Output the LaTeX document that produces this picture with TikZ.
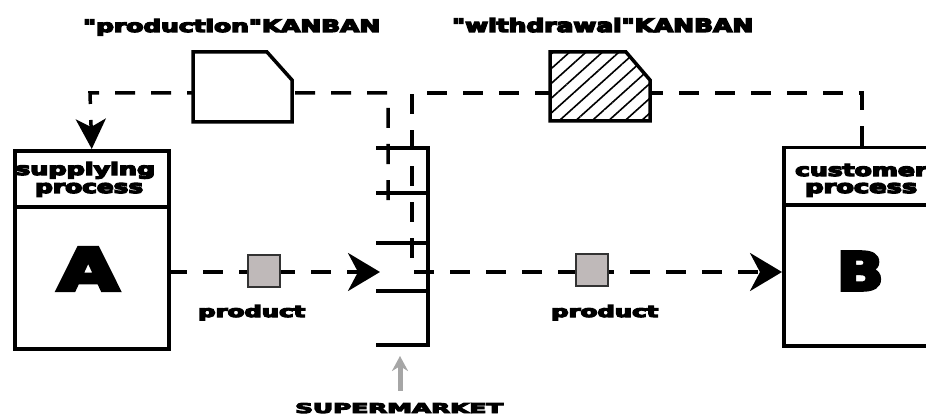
\documentclass[tikz,border=0pt]{standalone}
\usepackage{graphicx}
\usepackage{fontspec}
\newfontface\heavy{DejaVu Sans Bold}[FakeBold=7]
\usetikzlibrary{arrows.meta,patterns.meta}
% text scaled to a given width and height (in pt)
\newcommand{\fitlabel}[3]{\resizebox{#1pt}{#2pt}{\heavy #3}}
\definecolor{prodgray}{HTML}{BFB9B9}

\begin{document}
\begin{tikzpicture}[x=1pt,y=-1pt,
  boxline/.style={line width=3.5pt},
  flow/.style={line width=3.5pt, dash pattern=on 20pt off 16pt},
  shelf/.style={line width=3.5pt},
  txt/.style={inner sep=0pt, anchor=base west},
  bigtip/.style={-{Stealth[length=32pt,width=38pt,inset=10pt]}},
  downtip/.style={-{Stealth[length=30pt,width=30pt,inset=8pt]}},
  kanban/.style={line width=3.5pt, line join=miter},
  item/.style={draw=black!80, fill=prodgray, line width=2pt, minimum size=32pt, inner sep=0pt}]

\fill[white] (0,0) rectangle (926,417);
\useasboundingbox (0,0) rectangle (926,417);
\clip (0,0) rectangle (926,417);

% processes
\node[draw, boxline, minimum width=154pt, minimum height=198pt, inner sep=0pt, anchor=north west] (boxA) at (13,149) {};
\draw[boxline] ([yshift=-58pt]boxA.north west) -- ([yshift=-58pt]boxA.north east);
\node[draw, boxline, minimum width=156pt, minimum height=198pt, inner sep=0pt, anchor=north west] (boxB) at (782,146) {};
\draw[boxline] ([yshift=-59pt]boxB.north west) -- ([yshift=-59pt]boxB.north east);

\node[txt] (supA) at (15,175) {\fitlabel{140}{13}{supplying}};
\node[txt] (procA) at (35,193) {\fitlabel{108}{10}{process}};
\node[txt] (letA) at (58,290) {\fitlabel{60}{42}{A}};
\node[txt] (cusB) at (795,176) {\fitlabel{132}{12}{customer}};
\node[txt] (procB) at (805,193) {\fitlabel{112}{10}{process}};
\node[txt] (letB) at (837,290) {\fitlabel{46}{38}{B}};

% titles
\node[txt] (tprod) at (83,32) {\fitlabel{297}{13}{"production"KANBAN}};
\node[txt] (twith) at (452,32) {\fitlabel{301}{14}{"withdrawal"KANBAN}};

% supermarket shelves
\coordinate (smTop) at (428,148);
\coordinate (smBot) at (400,345);
\draw[shelf] (376,148) -- (428,148) -- (428,345) -- (376,345);
\foreach \yy in {193,243,291} \draw[shelf] (376,\yy) -- (428,\yy);

% connection points
\coordinate (smP) at (388,200);
\coordinate (aOut) at (167,272);
\coordinate (smIn) at (380,272);
\coordinate (bIn) at (782,272);

% production kanban loop
\draw[flow, downtip] (smP) -- (388,93) -- (90,93) -- (boxA.north);
% withdrawal kanban loop and product to B
\draw[flow, bigtip] (boxB.north) -- (boxB.north |- 0,93) -- (412,93) -- (412,272) -- (bIn);
% product from A to supermarket
\draw[flow, bigtip] (aOut) -- (smIn);

% kanban cards
\filldraw[kanban, fill=white] (193,52) -- (267,52) -- (292,80) -- (292,122) -- (193,122) -- cycle;
\coordinate (pk) at (242,87);
\fill[white] (550,52) -- (626,52) -- (650,80) -- (650,121) -- (550,121) -- cycle;
\fill[pattern={Lines[angle=42,distance=11pt,line width=1.6pt]}] (550,52) -- (626,52) -- (650,80) -- (650,121) -- (550,121) -- cycle;
\draw[kanban] (550,52) -- (626,52) -- (650,80) -- (650,121) -- (550,121) -- cycle;
\coordinate (wk) at (600,87);

% products
\node[item] (p1) at (264,271) {};
\node[item] (p2) at (592,270) {};
\node[txt] (lp1) at (198,317) {\fitlabel{107}{12}{product}};
\node[txt] (lp2) at (551,317) {\fitlabel{107}{12}{product}};

% supermarket label
\node[txt] (smk) at (295,413) {\fitlabel{208}{10}{SUPERMARKET}};
\draw[black!35, line width=5pt, -{Stealth[length=15pt,width=16pt]}, shorten <=12pt, shorten >=11pt] (smk.north -| smBot) -- (smBot);
\end{tikzpicture}
\end{document}
